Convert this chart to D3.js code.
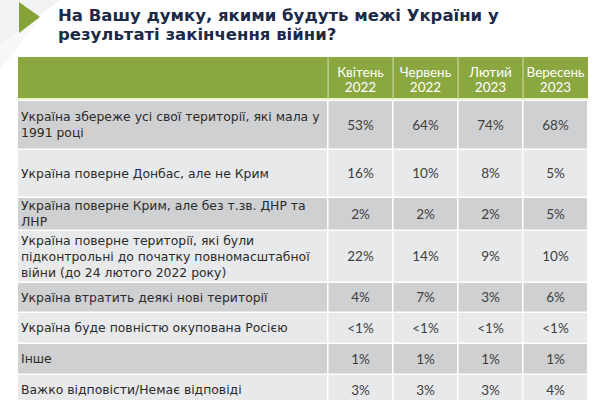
<!DOCTYPE html>
<html><head><meta charset="utf-8">
<script src="https://cdn.jsdelivr.net/npm/d3@7"></script>
<style>
html,body{margin:0;padding:0;background:#fff;}
svg{display:block;}
</style></head>
<body>
<div id="chart"></div>
<script>
const titleLines = ["На Вашу думку, якими будуть межі України у", "результаті закінчення війни?"];
const columns = [["Квітень", "2022"], ["Червень", "2022"], ["Лютий", "2023"], ["Вересень", "2023"]];
const categories = [
  ["Україна збереже усі свої території, які мала у", "1991 році"],
  ["Україна поверне Донбас, але не Крим"],
  ["Україна поверне Крим, але без т.зв. ДНР та", "ЛНР"],
  ["Україна поверне території, які були", "підконтрольні до початку повномасштабної", "війни (до 24 лютого 2022 року)"],
  ["Україна втратить деякі нові території"],
  ["Україна буде повністю окупована Росією"],
  ["Інше"],
  ["Важко відповісти/Немає відповіді"]
];
const apr2022 = ["53%", "16%", "2%", "22%", "4%", "<1%", "1%", "3%"];
const jun2022 = ["64%", "10%", "2%", "14%", "7%", "<1%", "1%", "3%"];
const feb2023 = ["74%", "8%", "2%", "9%", "3%", "<1%", "1%", "3%"];
const sep2023 = ["68%", "5%", "5%", "10%", "6%", "<1%", "1%", "4%"];
const series = [apr2022, jun2022, feb2023, sep2023];

// layout
const W = 600, H = 400;
const tableLeft = 18, firstColRight = 328, tableRight = 588;
const headerTop = 57, headerBottom = 99;
const rowTops = [101, 150, 198, 231, 283, 313, 344, 375, 406];

const svg = d3.select("#chart").append("svg").attr("width", W).attr("height", H);

// background decoration
svg.append("polygon").attr("points", "0,0 60,0 0,45").attr("fill", "#f1f2f3");
svg.append("polygon").attr("points", "0,45 40,18 0,70").attr("fill", "#f7f7f8");
svg.append("polygon").attr("points", "19,2 19,33 40,17").attr("fill", "#86a33a");

// title
svg.append("g").selectAll("text").data(titleLines).join("text")
  .attr("x", 58).attr("y", (d, i) => 21 + i * 19)
  .attr("font-family", "DejaVu Sans, Verdana, sans-serif").attr("font-weight", "bold")
  .attr("font-size", 16.5).attr("fill", "#1b2a47").text(d => d);

// column scale
const x = d3.scaleBand().domain(d3.range(columns.length)).range([firstColRight, tableRight]).paddingInner(0);

// header
svg.append("rect").attr("x", tableLeft).attr("y", headerTop).attr("width", tableRight - tableLeft)
  .attr("height", headerBottom - headerTop).attr("fill", "#8aa83f");
svg.append("rect").attr("x", tableLeft).attr("y", headerBottom - 1).attr("width", tableRight - tableLeft)
  .attr("height", 2).attr("fill", "#eef3c8");
const hdr = svg.append("g");
columns.forEach((c, i) => {
  hdr.append("rect").attr("x", x(i) - 0.5).attr("y", headerTop).attr("width", 1.2)
    .attr("height", headerBottom - headerTop).attr("fill", "#c7d69c");
  c.forEach((t, j) => {
    hdr.append("text").attr("x", x(i) + x.bandwidth() / 2).attr("y", 77 + j * 14.5)
      .attr("text-anchor", "middle").attr("font-family", "Lato, Open Sans, sans-serif")
      .attr("font-size", 13.5).attr("fill", "#ffffff").text(t);
  });
});

// rows
const body = svg.append("g");
categories.forEach((lines, r) => {
  const y0 = rowTops[r], y1 = rowTops[r + 1] - 1.5;
  const fill = r % 2 === 0 ? "#cfd0d2" : "#e8e9ea";
  body.append("rect").attr("x", tableLeft).attr("y", y0).attr("width", firstColRight - tableLeft - 1)
    .attr("height", y1 - y0).attr("fill", fill);
  series.forEach((s, i) => {
    body.append("rect").attr("x", x(i) + 0.5).attr("y", y0).attr("width", x.bandwidth() - 1.5)
      .attr("height", y1 - y0).attr("fill", fill);
    body.append("text").attr("x", x(i) + x.bandwidth() / 2).attr("y", (y0 + y1) / 2 + 4.8)
      .attr("text-anchor", "middle").attr("font-family", "Lato, Open Sans, sans-serif")
      .attr("font-size", 13.5).attr("fill", "#404040").text(s[r]);
  });
  const lh = 15.8;
  const cy = (y0 + y1) / 2;
  lines.forEach((t, j) => {
    body.append("text").attr("x", 21).attr("y", cy + (j - (lines.length - 1) / 2) * lh + 4.6)
      .attr("font-family", "DejaVu Sans, Verdana, sans-serif").attr("font-size", 12.4)
      .attr("fill", "#2b2b2b").text(t);
  });
});
</script>
</body></html>
